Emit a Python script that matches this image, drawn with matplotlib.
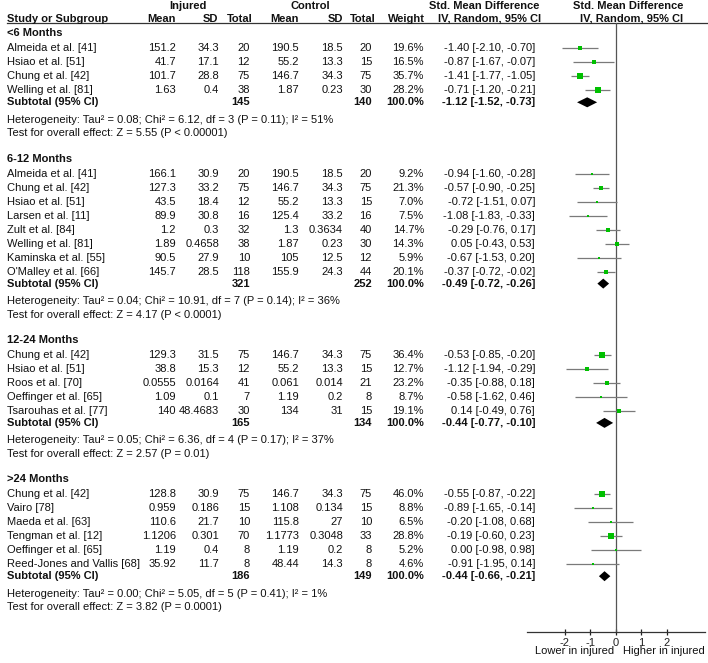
import matplotlib
matplotlib.use("Agg")
import matplotlib.pyplot as plt
import numpy as np

plt.rcParams['font.family'] = ['Liberation Sans', 'DejaVu Sans']
plt.rcParams['axes.unicode_minus'] = False

# ---------------- data ----------------
group_names = ["<6 Months", "6-12 Months", "12-24 Months", ">24 Months"]
group_sizes = [4, 8, 5, 6]

study = ["Almeida et al. [41]", "Hsiao et al. [51]", "Chung et al. [42]", "Welling et al. [81]",
         "Almeida et al. [41]", "Chung et al. [42]", "Hsiao et al. [51]", "Larsen et al. [11]",
         "Zult et al. [84]", "Welling et al. [81]", "Kaminska et al. [55]", "O'Malley et al. [66]",
         "Chung et al. [42]", "Hsiao et al. [51]", "Roos et al. [70]", "Oeffinger et al. [65]",
         "Tsarouhas et al. [77]",
         "Chung et al. [42]", "Vairo [78]", "Maeda et al. [63]", "Tengman et al. [12]",
         "Oeffinger et al. [65]", "Reed-Jones and Vallis [68]"]
inj_mean = ["151.2", "41.7", "101.7", "1.63",
            "166.1", "127.3", "43.5", "89.9", "1.2", "1.89", "90.5", "145.7",
            "129.3", "38.8", "0.0555", "1.09", "140",
            "128.8", "0.959", "110.6", "1.1206", "1.19", "35.92"]
inj_sd = ["34.3", "17.1", "28.8", "0.4",
          "30.9", "33.2", "18.4", "30.8", "0.3", "0.4658", "27.9", "28.5",
          "31.5", "15.3", "0.0164", "0.1", "48.4683",
          "30.9", "0.186", "21.7", "0.301", "0.4", "11.7"]
inj_n = [20, 12, 75, 38,
         20, 75, 12, 16, 32, 38, 10, 118,
         75, 12, 41, 7, 30,
         75, 15, 10, 70, 8, 8]
ctl_mean = ["190.5", "55.2", "146.7", "1.87",
            "190.5", "146.7", "55.2", "125.4", "1.3", "1.87", "105", "155.9",
            "146.7", "55.2", "0.061", "1.19", "134",
            "146.7", "1.108", "115.8", "1.1773", "1.19", "48.44"]
ctl_sd = ["18.5", "13.3", "34.3", "0.23",
          "18.5", "34.3", "13.3", "33.2", "0.3634", "0.23", "12.5", "24.3",
          "34.3", "13.3", "0.014", "0.2", "31",
          "34.3", "0.134", "27", "0.3048", "0.2", "14.3"]
ctl_n = [20, 15, 75, 30,
         20, 75, 15, 16, 40, 30, 12, 44,
         75, 15, 21, 8, 15,
         75, 15, 10, 33, 8, 8]
weight = [19.6, 16.5, 35.7, 28.2,
          9.2, 21.3, 7.0, 7.5, 14.7, 14.3, 5.9, 20.1,
          36.4, 12.7, 23.2, 8.7, 19.1,
          46.0, 8.8, 6.5, 28.8, 5.2, 4.6]
smd = [-1.40, -0.87, -1.41, -0.71,
       -0.94, -0.57, -0.72, -1.08, -0.29, 0.05, -0.67, -0.37,
       -0.53, -1.12, -0.35, -0.58, 0.14,
       -0.55, -0.89, -0.20, -0.19, 0.00, -0.91]
ci_lo = [-2.10, -1.67, -1.77, -1.20,
         -1.60, -0.90, -1.51, -1.83, -0.76, -0.43, -1.53, -0.72,
         -0.85, -1.94, -0.88, -1.62, -0.49,
         -0.87, -1.65, -1.08, -0.60, -0.98, -1.95]
ci_hi = [-0.70, -0.07, -1.05, -0.21,
         -0.28, -0.25, 0.07, -0.33, 0.17, 0.53, 0.20, -0.02,
         -0.20, -0.29, 0.18, 0.46, 0.76,
         -0.22, -0.14, 0.68, 0.23, 0.98, 0.14]

sub_inj_n = [145, 321, 165, 186]
sub_ctl_n = [140, 252, 134, 149]
sub_smd = [-1.12, -0.49, -0.44, -0.44]
sub_lo = [-1.52, -0.72, -0.77, -0.66]
sub_hi = [-0.73, -0.26, -0.10, -0.21]

het_tau2 = ["0.08", "0.04", "0.05", "0.00"]
het_chi2 = ["6.12", "10.91", "6.36", "5.05"]
het_df = [3, 7, 4, 5]
het_p = ["0.11", "0.14", "0.17", "0.41"]
het_i2 = [51, 36, 37, 1]
z_val = ["5.55", "4.17", "2.57", "3.82"]
z_p = ["P < 0.00001", "P < 0.0001", "P = 0.01", "P = 0.0001"]

xticks = [-2, -1, 0, 1, 2]
favours = ["Lower in injured", "Higher in injured"]

# ---------------- layout ----------------
W, H = 708, 663
FS = 8.0
fig = plt.figure(figsize=(W / 100, H / 100), dpi=100)
tab = fig.add_axes([0, 0, 1, 1])
tab.set_xlim(0, W)
tab.set_ylim(H, 0)
tab.axis('off')

PX0, PX1 = 526.7, 704.7
AX_TOP, AX_BOT = 23.0, 632.0
fax = fig.add_axes([PX0 / W, (H - AX_BOT) / H, (PX1 - PX0) / W, (AX_BOT - AX_TOP) / H])
fax.set_xlim(-3.5, 3.5)
fax.set_ylim(AX_BOT, AX_TOP)
fax.patch.set_alpha(0)
for s in ['top', 'left', 'right']:
    fax.spines[s].set_visible(False)
fax.spines['bottom'].set_color('#333333')
fax.spines['bottom'].set_linewidth(0.9)
fax.set_yticks([])
fax.set_xticks(xticks)
fax.set_xticklabels([str(t) for t in xticks])
fax.tick_params(axis='x', direction='inout', length=5, width=0.9, pad=1.5,
                labelsize=FS, colors='#222222')
fax.axvline(0, color='#555555', lw=0.9)

TXT = '#111111'
def t(x, y, s, ha='left', bold=False):
    tab.text(x, y, s, ha=ha, va='center', fontsize=FS, color=TXT,
             fontweight='bold' if bold else 'normal')

# header
t(7, 18.5, "Study or Subgroup", bold=True)
t(188, 6, "Injured", ha='center', bold=True)
t(310, 6, "Control", ha='center', bold=True)
for x, s in [(176, "Mean"), (218, "SD"), (253, "Total"), (299, "Mean"), (343, "SD"),
             (376, "Total"), (425, "Weight")]:
    t(x, 18.5, s, ha='right', bold=True)
t(484, 6, "Std. Mean Difference", ha='center', bold=True)
t(490, 18.5, "IV, Random, 95% CI", ha='center', bold=True)
t(628, 6, "Std. Mean Difference", ha='center', bold=True)
t(632, 18.5, "IV, Random, 95% CI", ha='center', bold=True)
tab.plot([7, W], [23.0, 23.0], color='#333333', lw=0.9)

COLS = dict(im=176, isd=219, inn=250, cm=299, csd=343, cn=372, w=424, ci=535)
def ci_text(e, lo, hi):
    return "{:.2f} [{:.2f}, {:.2f}]".format(e, lo, hi)

y = 33.3
k = 0
STEP = 14.0
for g, n in enumerate(group_sizes):
    t(7, y, group_names[g], bold=True)
    y += 15
    for i in range(n):
        t(7, y, study[k])
        t(COLS['im'], y, inj_mean[k], ha='right')
        t(COLS['isd'], y, inj_sd[k], ha='right')
        t(COLS['inn'], y, str(inj_n[k]), ha='right')
        t(COLS['cm'], y, ctl_mean[k], ha='right')
        t(COLS['csd'], y, ctl_sd[k], ha='right')
        t(COLS['cn'], y, str(ctl_n[k]), ha='right')
        t(COLS['w'], y, "{:.1f}%".format(weight[k]), ha='right')
        t(COLS['ci'], y, ci_text(smd[k], ci_lo[k], ci_hi[k]), ha='right')
        fax.plot([ci_lo[k], ci_hi[k]], [y, y], color='#7a7a7a', lw=0.9, solid_capstyle='butt')
        fax.plot([smd[k]], [y], marker='s', linestyle='none', color='#00c000',
                 markersize=0.68 * np.sqrt(weight[k]), markeredgewidth=0)
        k += 1
        if i < n - 1:
            y += STEP
    y += 12
    t(7, y, "Subtotal (95% CI)", bold=True)
    t(COLS['inn'], y, str(sub_inj_n[g]), ha='right', bold=True)
    t(COLS['cn'], y, str(sub_ctl_n[g]), ha='right', bold=True)
    t(COLS['w'], y, "100.0%", ha='right', bold=True)
    t(COLS['ci'], y, ci_text(sub_smd[g], sub_lo[g], sub_hi[g]), ha='right', bold=True)
    fax.fill([sub_lo[g], sub_smd[g], sub_hi[g], sub_smd[g]], [y, y - 5, y, y + 5],
             color='black', lw=0)
    y += 17.5
    t(7, y, "Heterogeneity: Tau\u00b2 = {}; Chi\u00b2 = {}, df = {} (P = {}); I\u00b2 = {}%".format(
        het_tau2[g], het_chi2[g], het_df[g], het_p[g], het_i2[g]))
    y += 13.5
    t(7, y, "Test for overall effect: Z = {} ({})".format(z_val[g], z_p[g]))
    y += 25.3

t(575, 651.5, favours[0], ha='center')
t(664, 651.5, favours[1], ha='center')

fig.savefig("out.png", dpi=100)
